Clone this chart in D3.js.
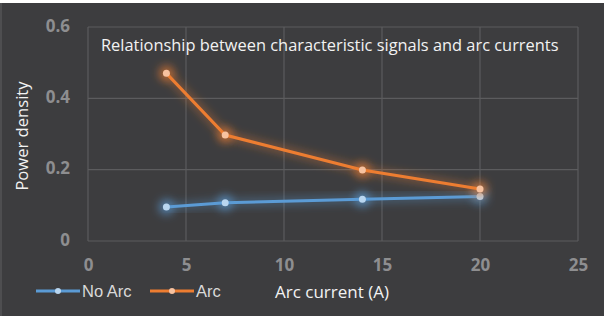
<!DOCTYPE html>
<html>
<head>
<meta charset="utf-8">
<script src="https://cdn.jsdelivr.net/npm/d3@7"></script>
<style>
  html, body { margin: 0; padding: 0; background: #ffffff; }
  svg { display: block; }
</style>
</head>
<body>
<div id="chart"></div>
<script>
'use strict';

const current = [4, 7, 14, 20]
const noArc = [0.095, 0.107, 0.117, 0.125]
const arc = [0.47, 0.297, 0.199, 0.146]
const xTicks = [0, 5, 10, 15, 20, 25]
const yTicks = [0, 0.2, 0.4, 0.6]

const series = [
    { name: 'No Arc', values: noArc, color: '#5b9bd5', dot: '#b9d6f0' },
    { name: 'Arc', values: arc, color: '#ed7d31', dot: '#f7c2a0' }
]

function buildChart() {
    const width = 604;
    const height = 316;

    const svg = d3.select('#chart')
        .append('svg')
            .attr('width', width)
            .attr('height', height);

    const defs = svg.append('defs');
    const glow = defs.append('filter')
        .attr('id', 'glow')
        .attr('x', '-50%').attr('y', '-50%')
        .attr('width', '200%').attr('height', '200%');
    glow.append('feGaussianBlur')
        .attr('in', 'SourceGraphic')
        .attr('stdDeviation', 4);

    svg.append('rect')
        .attr('x', 0).attr('y', 3)
        .attr('width', width).attr('height', height - 3)
        .attr('fill', '#3d3d3f');
    svg.append('rect')
        .attr('x', 0).attr('y', 3)
        .attr('width', 2).attr('height', height - 3)
        .attr('fill', '#4e4e50');

    const x = d3.scaleLinear().domain([0, 25]).range([88, 578]);
    const y = d3.scaleLinear().domain([0, 0.6]).range([241, 27]);

    // grid
    svg.append('g')
        .selectAll('line')
        .data(xTicks)
        .enter()
        .append('line')
            .attr('x1', d => x(d)).attr('x2', d => x(d))
            .attr('y1', y(0)).attr('y2', y(0.6))
            .attr('stroke', '#5c5c5e')
            .attr('stroke-width', 1.2);
    svg.append('g')
        .selectAll('line')
        .data(yTicks)
        .enter()
        .append('line')
            .attr('x1', x(0)).attr('x2', x(25))
            .attr('y1', d => y(d)).attr('y2', d => y(d))
            .attr('stroke', '#5c5c5e')
            .attr('stroke-width', 1.2);

    const xAxis = d3.axisBottom(x).tickValues(xTicks).tickSize(0).tickPadding(18)
        .tickFormat(d3.format('d'));
    const gx = svg.append('g')
        .attr('transform', `translate(0,${y(0)})`)
        .call(xAxis);
    gx.select('.domain').remove();
    gx.selectAll('text')
        .attr('fill', '#8e8e90')
        .attr('font-family', 'Open Sans, sans-serif')
        .attr('font-weight', 'bold')
        .attr('font-size', 17);

    const yAxis = d3.axisLeft(y).tickValues(yTicks).tickSize(0).tickPadding(18)
        .tickFormat(d => d === 0 ? '0' : d3.format('.1f')(d));
    const gy = svg.append('g')
        .attr('transform', `translate(${x(0)},0)`)
        .call(yAxis);
    gy.select('.domain').remove();
    gy.selectAll('text')
        .attr('fill', '#8e8e90')
        .attr('font-family', 'Open Sans, sans-serif')
        .attr('font-weight', 'bold')
        .attr('font-size', 17)
        .attr('dy', '0.25em');

    const line = d3.line()
        .x((d, i) => x(current[i]))
        .y(d => y(d));

    series.forEach(s => {
        const g = svg.append('g');
        g.append('path')
            .datum(s.values)
            .attr('fill', 'none')
            .attr('stroke', s.color)
            .attr('stroke-opacity', 0.35)
            .attr('stroke-width', 8)
            .attr('filter', 'url(#glow)')
            .attr('d', line);
        g.selectAll('circle.halo')
            .data(s.values)
            .enter()
            .append('circle')
                .attr('class', 'halo')
                .attr('cx', (d, i) => x(current[i]))
                .attr('cy', d => y(d))
                .attr('r', 8)
                .attr('fill', s.color)
                .attr('fill-opacity', 0.6)
                .attr('filter', 'url(#glow)');
        g.append('path')
            .datum(s.values)
            .attr('fill', 'none')
            .attr('stroke', s.color)
            .attr('stroke-width', 3)
            .attr('d', line);
        g.selectAll('circle.dot')
            .data(s.values)
            .enter()
            .append('circle')
                .attr('class', 'dot')
                .attr('cx', (d, i) => x(current[i]))
                .attr('cy', d => y(d))
                .attr('r', 3.5)
                .attr('fill', s.dot);
    });

    svg.append('text')
        .attr('x', 101)
        .attr('y', 51)
        .attr('fill', '#f2f2f2')
        .attr('font-family', 'Open Sans, sans-serif')
        .attr('font-size', 16.4)
        .text('Relationship between characteristic signals and arc currents');

    svg.append('text')
        .attr('transform', `translate(28,136) rotate(-90)`)
        .attr('text-anchor', 'middle')
        .attr('fill', '#f2f2f2')
        .attr('font-family', 'Open Sans, sans-serif')
        .attr('font-size', 16.6)
        .text('Power density');

    svg.append('text')
        .attr('x', 332)
        .attr('y', 298)
        .attr('text-anchor', 'middle')
        .attr('fill', '#f2f2f2')
        .attr('font-family', 'Open Sans, sans-serif')
        .attr('font-size', 17)
        .text('Arc current (A)');

    const legendItem = svg.append('g')
        .selectAll('g')
        .data(series)
        .enter()
        .append('g')
            .attr('transform', (d, i) => `translate(${36 + 114 * i}, 291)`);
    legendItem.append('line')
        .attr('x1', 0).attr('x2', 44)
        .attr('stroke', d => d.color)
        .attr('stroke-width', 3);
    legendItem.append('circle')
        .attr('cx', 22)
        .attr('r', 3)
        .attr('fill', d => d.dot);
    legendItem.append('text')
        .attr('x', 46)
        .attr('y', 6)
        .attr('fill', '#d9d9d9')
        .attr('font-family', 'Liberation Sans, Arial, sans-serif')
        .attr('font-size', 16.5)
        .text(d => d.name);
}

window.addEventListener('DOMContentLoaded', () => {
    buildChart();
});
</script>
</body>
</html>
